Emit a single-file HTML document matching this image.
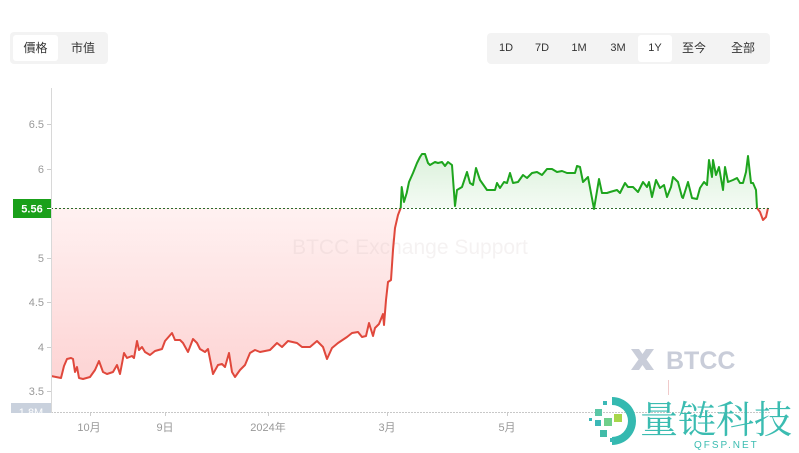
<!DOCTYPE html>
<html><head><meta charset="utf-8">
<style>
html,body{margin:0;padding:0;background:#fff;}
body{width:799px;height:453px;position:relative;overflow:hidden;font-family:"Liberation Sans","Noto Sans CJK TC","Noto Sans CJK SC",sans-serif;}
.grp{position:absolute;background:#f3f3f3;border-radius:4px;}
.btn{position:absolute;font-size:12px;color:#333;text-align:center;line-height:26px;height:26px;border-radius:3px;}
.act{background:#fff;}
</style></head><body>
<div class="grp" style="left:10px;top:32px;width:98px;height:32px;"></div>
<div class="btn act" style="left:13px;top:35px;width:45px;">價格</div>
<div class="btn" style="left:62px;top:35px;width:42px;">市值</div>

<div class="grp" style="left:487px;top:33px;width:283px;height:31px;"></div>
<div class="btn" style="left:491px;top:35px;width:30px;font-size:11px;">1D</div>
<div class="btn" style="left:527px;top:35px;width:30px;font-size:11px;">7D</div>
<div class="btn" style="left:564px;top:35px;width:30px;font-size:11px;">1M</div>
<div class="btn" style="left:603px;top:35px;width:30px;font-size:11px;">3M</div>
<div class="btn act" style="left:638px;top:35px;width:34px;height:27px;font-size:11px;">1Y</div>
<div class="btn" style="left:678px;top:35px;width:32px;">至今</div>
<div class="btn" style="left:727px;top:35px;width:32px;">全部</div>

<svg width="799" height="453" style="position:absolute;left:0;top:0;" xmlns="http://www.w3.org/2000/svg">
<defs>
<linearGradient id="rg" x1="0" y1="208" x2="0" y2="390" gradientUnits="userSpaceOnUse">
<stop offset="0" stop-color="#fff1f1"/><stop offset="1" stop-color="#fdd2d2"/>
</linearGradient>
<linearGradient id="gg" x1="0" y1="150" x2="0" y2="208" gradientUnits="userSpaceOnUse">
<stop offset="0" stop-color="#d9f0d9"/><stop offset="1" stop-color="#f4fbf4"/>
</linearGradient>
<clipPath id="pc"><rect x="51" y="85" width="720" height="327"/></clipPath>
</defs>
<g clip-path="url(#pc)">
<polygon fill="url(#rg)" points="51,208 51,376 56,377 61,378 64,366 67,359 71,358 73,359 75,372 77,367 79,378 83,379 90,377 95,370 99,361 103,372 107,374 113,372 117,365 120,374 124,353 127,358 132,356 134,358 137,341 139,350 142,347 145,352 150,355 155,351 162,349 165,341 172,333 175,340 180,340 183,343 188,352 193,339 197,343 200,349 205,352 208,349 213,374 218,365 222,364 225,367 229,353 232,372 235,377 240,370 245,365 250,353 255,350 260,352 270,350 277,343 282,347 288,341 297,343 302,347 310,347 317,341 323,347 327,359 332,348 338,343 347,337 352,333 358,332 362,337 366,336 369,323 373,336 375,328 379,324 383,314 384,325 386,300 388,282 391,280 393,250 395,228 398,215 400.7,208"/>
<polygon fill="url(#gg)" points="400.7,208 401.7,187 404,202 406.7,193 409,182 413,173 417,163 420,157 422,154 425,154 428,163 430,165 435,162 438,163 442,162 445,166 448,162 452,165 455,206 457,190 462,187 465,178 467,172 470,183 473,185 476,168 480,180 487,190 495,190 497,183 500,188 504,182 507,183 510,173 513,183 518,182 523,175 527,178 532,173 537,172 542,175 547,169 552,169 557,172 562,171 567,173 572,173 575,173 577,166 580,167 583,182 588,177 594,208 599,179 602,193 607,193 610,192 617,190 620,193 625,183 628,187 633,187 638,192 643,182 647,187 649,182 652,197 656,180 660,188 664,185 667,197 671,187 673,177 678,182 682,197 683,198 688,182 692,198 697,199 700,188 704,182 707,185 709,160 712,177 713,160 716,175 719,167 723,190 725,167 728,182 733,180 737,178 740,183 743,183 746,172 748,156 751,183 753,183 756,190 757,208"/>
<polygon fill="url(#rg)" points="757,208 760,212 763,220 766,217 768,208"/>
</g>
<!-- watermark -->
<text x="410" y="254" font-size="21" fill="#c8b8b8" fill-opacity="0.18" text-anchor="middle" font-family="Liberation Sans, sans-serif">BTCC Exchange Support</text>
<g clip-path="url(#pc)">
<polyline fill="none" stroke="#e0483c" stroke-width="2" stroke-linejoin="round" points="51,376 56,377 61,378 64,366 67,359 71,358 73,359 75,372 77,367 79,378 83,379 90,377 95,370 99,361 103,372 107,374 113,372 117,365 120,374 124,353 127,358 132,356 134,358 137,341 139,350 142,347 145,352 150,355 155,351 162,349 165,341 172,333 175,340 180,340 183,343 188,352 193,339 197,343 200,349 205,352 208,349 213,374 218,365 222,364 225,367 229,353 232,372 235,377 240,370 245,365 250,353 255,350 260,352 270,350 277,343 282,347 288,341 297,343 302,347 310,347 317,341 323,347 327,359 332,348 338,343 347,337 352,333 358,332 362,337 366,336 369,323 373,336 375,328 379,324 383,314 384,325 386,300 388,282 391,280 393,250 395,228 398,215 400.7,208"/>
<polyline fill="none" stroke="#1ea51e" stroke-width="2" stroke-linejoin="round" points="400.7,208 401.7,187 404,202 406.7,193 409,182 413,173 417,163 420,157 422,154 425,154 428,163 430,165 435,162 438,163 442,162 445,166 448,162 452,165 455,206 457,190 462,187 465,178 467,172 470,183 473,185 476,168 480,180 487,190 495,190 497,183 500,188 504,182 507,183 510,173 513,183 518,182 523,175 527,178 532,173 537,172 542,175 547,169 552,169 557,172 562,171 567,173 572,173 575,173 577,166 580,167 583,182 588,177 594,209 599,179 602,193 607,193 610,192 617,190 620,193 625,183 628,187 633,187 638,192 643,182 647,187 649,182 652,197 656,180 660,188 664,185 667,197 671,187 673,177 678,182 682,197 683,198 688,182 692,198 697,199 700,188 704,182 707,185 709,160 712,177 713,160 716,175 719,167 723,190 725,167 728,182 733,180 737,178 740,183 743,183 746,172 748,156 751,183 753,183 756,190 757,208"/>
<polyline fill="none" stroke="#e0483c" stroke-width="2" stroke-linejoin="round" points="757,208 760,212 763,220 766,217 768,208"/>
</g>
<!-- baseline dashed -->
<line x1="51" y1="208.5" x2="770" y2="208.5" stroke="#2a6a2a" stroke-width="1" stroke-dasharray="2,2"/>
<!-- bottom dashed -->
<line x1="51" y1="412.5" x2="770" y2="412.5" stroke="#c8c8c8" stroke-width="1" stroke-dasharray="2,1"/>
<!-- y axis -->
<line x1="51.5" y1="88" x2="51.5" y2="413" stroke="#d8d8d8" stroke-width="1"/>
<g stroke="#ccc" stroke-width="1">
<line x1="47" y1="124.5" x2="51" y2="124.5"/><line x1="47" y1="169.5" x2="51" y2="169.5"/>
<line x1="47" y1="258.5" x2="51" y2="258.5"/><line x1="47" y1="302.5" x2="51" y2="302.5"/>
<line x1="47" y1="347.5" x2="51" y2="347.5"/><line x1="47" y1="391.5" x2="51" y2="391.5"/>
</g>
<g font-size="11" fill="#999" text-anchor="end" font-family="Liberation Sans, sans-serif">
<text x="44" y="128">6.5</text><text x="44" y="173">6</text><text x="44" y="262">5</text>
<text x="44" y="306">4.5</text><text x="44" y="351">4</text><text x="44" y="395">3.5</text>
</g>
<rect x="13" y="199" width="38" height="19" fill="#1aa01a"/>
<text x="32" y="212.5" font-size="11" font-weight="bold" fill="#fff" text-anchor="middle" font-family="Liberation Sans, sans-serif">5.56</text>
<line x1="47" y1="208.5" x2="51" y2="208.5" stroke="#fff" stroke-width="1"/>
<svg x="11" y="403" width="40" height="10"><rect x="0" y="0" width="40" height="12" fill="#c9d1dd"/><text x="20" y="13" font-size="11" fill="#fff" text-anchor="middle" font-family="Liberation Sans, sans-serif">1.8M</text></svg>
<!-- x ticks -->
<g stroke="#ccc"><line x1="90.5" y1="413" x2="90.5" y2="416"/><line x1="165.5" y1="413" x2="165.5" y2="416"/><line x1="268.5" y1="413" x2="268.5" y2="416"/><line x1="387.5" y1="413" x2="387.5" y2="416"/><line x1="507.5" y1="413" x2="507.5" y2="416"/></g>
<g font-size="11" fill="#999" text-anchor="middle" font-family="Liberation Sans, Noto Sans CJK SC, sans-serif">
<text x="89" y="431">10月</text><text x="165" y="431">9日</text><text x="268" y="431">2024年</text>
<text x="387" y="431">3月</text><text x="507" y="431">5月</text>
</g>
<!-- BTCC logo -->
<g fill="#c9cdd9">
<path d="M631,349 l8,0 l3.5,5 l3.5,-5 l8,0 l-7.5,10.5 l7.5,10.5 l-8,0 l-3.5,-5 l-3.5,5 l-8,0 l7.5,-10.5 z"/>
</g>
<text x="666" y="369" font-size="25" font-weight="bold" fill="#c9cdd9" font-family="Liberation Sans, sans-serif">BTCC</text>
<line x1="668.5" y1="380" x2="668.5" y2="395" stroke="#f0caca" stroke-width="1"/>
<!-- QFSP logo -->
<g>
<path d="M612,397 A24,24 0 1,1 612,445 L612,437 A16,16 0 1,0 612,405 Z" fill="#34b9b0"/>
<rect x="595" y="409" width="7" height="7" fill="#5bc7a6"/>
<rect x="604" y="418" width="8" height="8" fill="#6fcf8a"/>
<rect x="614" y="414" width="8" height="8" fill="#a7d64a"/>
<rect x="595" y="420" width="6" height="6" fill="#3bb8b6"/>
<rect x="600" y="430" width="7" height="7" fill="#42bba8"/>
<rect x="589" y="418" width="3" height="3" fill="#3bb8b6"/>
<rect x="603" y="401" width="4" height="4" fill="#3bb8b6"/>
<rect x="610" y="438" width="4" height="4" fill="#3bb8b6"/>
</g>
<text x="640" y="433" font-size="38" fill="#3bbcb1" font-family="Noto Serif CJK SC, Noto Sans CJK SC, sans-serif">量链科技</text>
<text x="694" y="448" font-size="10" fill="#3bbcb1" letter-spacing="2" font-family="Liberation Sans, sans-serif">QFSP.NET</text>
</svg>
</body></html>
